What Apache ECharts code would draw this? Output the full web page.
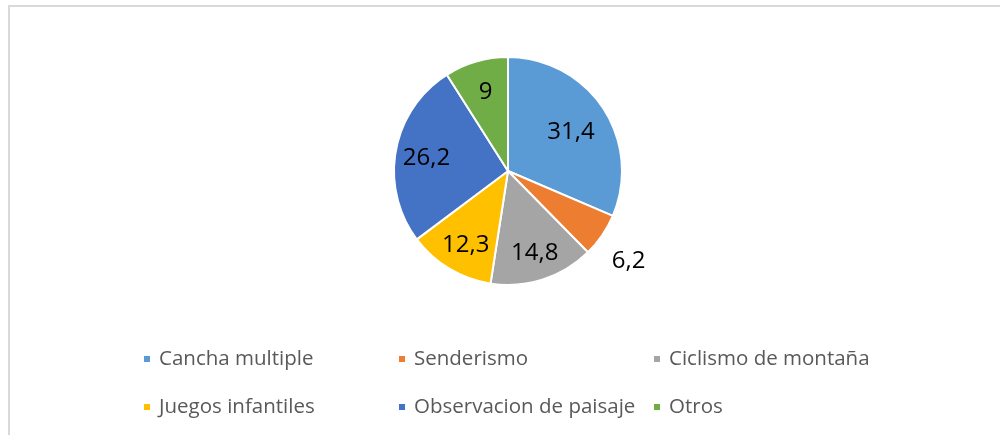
<!DOCTYPE html>
<html>
<head>
<meta charset="utf-8">
<script src="https://cdn.jsdelivr.net/npm/echarts@6/dist/echarts.min.js"></script>
<style>
  html, body { margin: 0; padding: 0; background: #fff; }
  #chart { width: 1000px; height: 435px; }
</style>
</head>
<body>
<div id="chart"></div>
<script>
// activity shares (%)
const categories = ["Cancha multiple", "Senderismo", "Ciclismo de montaña", "Juegos infantiles", "Observacion de paisaje", "Otros"]
const values = [31.4, 6.2, 14.8, 12.3, 26.2, 9]
const colors = ["#5B9BD5", "#ED7D31", "#A5A5A5", "#FFC000", "#4472C4", "#70AD47"]
const outsideLabels = ["Senderismo"] // small slice labelled outside the pie

const fmt = (v) => String(v).replace(".", ",")
const font = "'Open Sans', 'Noto Sans', sans-serif"
const center = [508, 171]
const radius = 114

const chart = echarts.init(document.getElementById("chart"), null, { renderer: "canvas" })

const mainData = categories.map((name, i) => ({
  name,
  value: values[i],
  itemStyle: { color: colors[i] },
  label: outsideLabels.includes(name)
    ? { show: true, position: "outside" }
    : { show: false }
}))

// transparent twin series, only used to place the inside labels further out
const labelData = categories.map((name, i) => ({
  name,
  value: values[i],
  label: { show: !outsideLabels.includes(name) }
}))

const legendRow = (names, top) => ({
  data: names,
  left: 142,
  top,
  padding: 0,
  orient: "horizontal",
  icon: "rect",
  itemWidth: 8,
  itemHeight: 8,
  itemGap: 5,
  selectedMode: false,
  textStyle: {
    color: "#595959",
    fontFamily: font,
    fontSize: 20.5,
    lineHeight: 24,
    width: 233,
    padding: [0, 0, 0, 3]
  }
})

chart.setOption({
  backgroundColor: "#fff",
  animation: false,
  graphic: [{
    type: "rect",
    shape: { x: 9, y: 6, width: 1200, height: 600 },
    style: { fill: "none", stroke: "#d9d9d9", lineWidth: 2 },
    silent: true
  }],
  legend: [
    legendRow(categories.slice(0, 3), 347),
    legendRow(categories.slice(3), 395)
  ],
  series: [
    {
      type: "pie",
      center,
      radius,
      startAngle: 90,
      clockwise: true,
      avoidLabelOverlap: false,
      itemStyle: { borderColor: "#fff", borderWidth: 2 },
      label: {
        formatter: (p) => fmt(p.value),
        color: "#000",
        fontFamily: font,
        fontSize: 24
      },
      labelLine: { show: false, length: 8, length2: 0 },
      labelLayout: () => ({ dx: -2, dy: 21 }),
      emphasis: { disabled: true },
      data: mainData
    },
    {
      type: "pie",
      center,
      radius: radius * 1.42,
      startAngle: 90,
      clockwise: true,
      silent: true,
      avoidLabelOverlap: false,
      itemStyle: { color: "transparent" },
      label: {
        position: "inside",
        formatter: (p) => fmt(p.value),
        color: "#000",
        fontFamily: font,
        fontSize: 24
      },
      labelLine: { show: false },
      // the big slice's label sits a little closer to the centre
      labelLayout: (p) => (p.dataIndex === 0 ? { dx: -7, dy: 7 } : { dx: 1, dy: 2 }),
      emphasis: { disabled: true },
      z: 3,
      data: labelData
    }
  ]
})
</script>
</body>
</html>
